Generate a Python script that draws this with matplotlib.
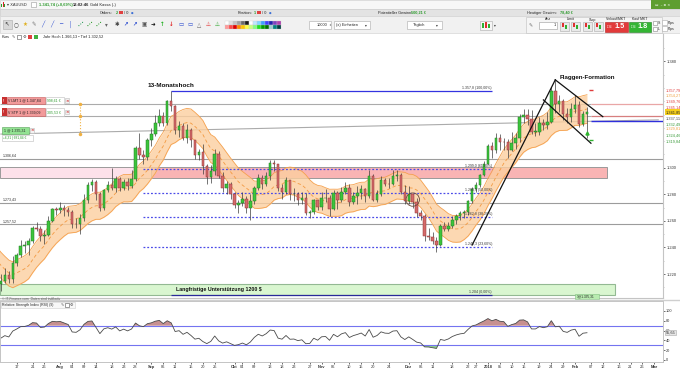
import numpy as np
import pandas as pd
import matplotlib
matplotlib.use("Agg")
import matplotlib.pyplot as plt
from matplotlib.patches import Rectangle, Ellipse
from matplotlib.transforms import blended_transform_factory

plt.rcParams['font.family'] = ['Liberation Sans', 'DejaVu Sans']

# ---------------- data (XAUUSD daily) ----------------
first_day = '2017-06-26'
axis_end = '2018-03-02'
holidays = ['2017-12-25', '2018-01-01']

opens = [1256.5, 1246.5, 1251.5, 1249.5, 1244.5,
         1241.5, 1219.5, 1226.5, 1225.5, 1222.5,
         1209.5, 1212.5, 1214.5, 1219.0, 1216.5,
         1228.5, 1234.0, 1241.0, 1241.5, 1245.0,
         1254.5, 1254.0, 1248.5, 1249.5, 1260.0,
         1269.0, 1268.5, 1269.5, 1268.0, 1266.5,
         1258.0, 1257.5, 1262.0, 1275.5, 1287.0,
         1289.0, 1280.5, 1269.5, 1283.0, 1287.0,
         1284.5, 1291.5, 1284.5, 1289.5, 1286.5,
         1291.5, 1314.5, 1309.5, 1308.0, 1320.5,
         1325.0, 1334.0, 1339.0, 1334.0, 1350.0,
         1346.5, 1328.5, 1331.5, 1322.5, 1328.5,
         1320.5, 1309.5, 1311.5, 1301.0, 1293.0,
         1297.5, 1310.5, 1294.0, 1284.5, 1287.5,
         1280.0, 1272.0, 1273.5, 1276.5, 1270.0,
         1275.0, 1284.5, 1292.0, 1288.0, 1293.5,
         1303.5, 1302.5, 1285.0, 1282.0, 1290.5,
         1280.0, 1280.5, 1276.0, 1277.5, 1266.0,
         1266.5, 1275.5, 1270.5, 1277.0, 1277.5,
         1269.0, 1281.0, 1275.5, 1282.0, 1285.0,
         1274.5, 1278.5, 1281.0, 1284.0, 1278.5,
         1294.0, 1276.0, 1280.5, 1291.0, 1288.0,
         1287.5, 1293.5, 1294.5, 1282.0, 1275.0,
         1280.5, 1274.0, 1266.0, 1263.5, 1248.5,
         1248.0, 1245.0, 1242.0, 1256.5, 1254.0,
         1256.5, 1261.0, 1264.0, 1266.0, 1267.0,
         1275.0, 1284.0, 1287.0, 1294.5,
         1302.5, 1316.5, 1313.5, 1322.0,
         1319.5, 1319.0, 1313.0, 1318.5, 1322.5,
         1338.0, 1339.5, 1337.0, 1327.0, 1327.0,
         1333.5, 1332.0, 1334.5, 1358.0, 1348.0,
         1350.0, 1340.5, 1338.5, 1344.5, 1347.0,
         1333.0, 1340.5]

highs = [1256.9, 1256.0, 1256.0, 1252.5, 1247.0,
         1242.0, 1228.0, 1227.5, 1228.0, 1225.0,
         1214.0, 1220.0, 1224.5, 1222.0, 1233.5,
         1236.0, 1245.5, 1244.5, 1247.0, 1256.5,
         1259.0, 1256.5, 1253.0, 1264.0, 1270.0,
         1270.5, 1274.0, 1272.0, 1270.5, 1268.5,
         1262.0, 1265.0, 1280.0, 1289.5, 1291.5,
         1290.5, 1281.5, 1284.0, 1290.0, 1300.0,
         1293.5, 1293.0, 1291.5, 1292.0, 1298.5,
         1316.0, 1326.0, 1313.0, 1322.0, 1330.0,
         1339.5, 1344.0, 1342.0, 1351.0, 1357.6,
         1347.0, 1335.5, 1334.0, 1333.0, 1330.0,
         1321.0, 1314.0, 1318.0, 1302.5, 1302.0,
         1314.0, 1312.5, 1297.0, 1290.0, 1289.5,
         1282.0, 1276.0, 1282.0, 1279.0, 1280.5,
         1286.5, 1295.0, 1294.5, 1296.5, 1306.0,
         1306.0, 1303.0, 1288.0, 1293.0, 1291.0,
         1285.0, 1282.0, 1282.0, 1281.0, 1268.5,
         1276.5, 1276.0, 1282.0, 1284.0, 1279.5,
         1283.5, 1282.5, 1285.5, 1289.0, 1287.5,
         1281.5, 1286.5, 1287.0, 1285.0, 1298.0,
         1295.0, 1283.0, 1293.5, 1292.5, 1292.5,
         1298.0, 1298.5, 1296.0, 1287.0, 1286.5,
         1280.5, 1277.5, 1268.0, 1265.0, 1255.0,
         1251.5, 1248.0, 1258.0, 1259.5, 1259.5,
         1264.0, 1265.5, 1267.5, 1268.0, 1276.0,
         1285.5, 1289.0, 1295.5, 1305.0,
         1318.0, 1319.0, 1326.0, 1325.0,
         1322.0, 1321.5, 1326.5, 1326.0, 1340.5,
         1344.5, 1344.0, 1343.5, 1334.0, 1338.5,
         1337.0, 1342.0, 1361.0, 1366.1, 1355.0,
         1351.5, 1345.0, 1348.5, 1355.0, 1350.0,
         1342.5, 1346.0]

lows = [1236.5, 1243.0, 1246.0, 1242.5, 1236.0,
        1218.5, 1218.0, 1220.0, 1219.0, 1207.0,
        1204.5, 1207.0, 1213.0, 1213.5, 1213.0,
        1226.0, 1232.5, 1236.0, 1234.0, 1243.0,
        1252.0, 1244.5, 1242.5, 1248.5, 1259.0,
        1264.5, 1266.0, 1264.0, 1264.0, 1254.5,
        1254.5, 1250.0, 1260.0, 1273.5, 1282.5,
        1276.0, 1267.5, 1268.0, 1281.5, 1283.0,
        1282.0, 1282.5, 1283.0, 1283.0, 1285.0,
        1290.0, 1306.5, 1303.0, 1305.5, 1316.0,
        1324.0, 1331.0, 1331.5, 1332.0, 1343.0,
        1325.0, 1323.0, 1321.0, 1318.5, 1315.5,
        1306.5, 1305.5, 1295.0, 1288.0, 1288.5,
        1294.5, 1292.5, 1282.0, 1280.5, 1276.5,
        1270.0, 1266.0, 1271.5, 1266.0, 1260.5,
        1272.5, 1283.0, 1284.0, 1286.5, 1290.5,
        1297.5, 1282.5, 1276.5, 1280.5, 1276.0,
        1275.0, 1272.0, 1273.0, 1264.5, 1262.0,
        1265.5, 1268.5, 1268.5, 1274.0, 1263.5,
        1268.5, 1269.0, 1274.5, 1280.5, 1271.5,
        1273.0, 1272.5, 1276.5, 1274.0, 1277.5,
        1275.0, 1274.5, 1279.0, 1286.0, 1284.5,
        1287.0, 1290.0, 1280.5, 1272.5, 1273.0,
        1270.0, 1263.0, 1260.5, 1245.0, 1245.5,
        1242.5, 1236.5, 1241.0, 1252.0, 1252.0,
        1255.0, 1258.0, 1261.0, 1262.0, 1264.5,
        1273.5, 1281.5, 1285.5, 1293.5,
        1302.5, 1307.0, 1311.0, 1313.5,
        1313.0, 1307.0, 1312.5, 1314.0, 1319.5,
        1333.5, 1332.5, 1325.5, 1324.0, 1324.5,
        1328.0, 1329.0, 1334.0, 1341.5, 1342.0,
        1336.0, 1334.0, 1334.5, 1341.0, 1330.5,
        1331.5, 1322.5]

closes = [1246.5, 1251.5, 1249.5, 1244.5, 1241.5,
          1219.5, 1226.5, 1225.5, 1222.5, 1209.5,
          1212.5, 1214.5, 1219.0, 1216.5, 1228.5,
          1234.0, 1241.0, 1241.5, 1245.0, 1254.5,
          1254.0, 1248.5, 1249.5, 1260.0, 1269.0,
          1268.5, 1269.5, 1268.0, 1266.5, 1258.0,
          1257.5, 1262.0, 1275.5, 1287.0, 1289.0,
          1280.5, 1269.5, 1283.0, 1287.0, 1284.5,
          1291.5, 1284.5, 1289.5, 1286.5, 1291.5,
          1314.5, 1309.5, 1308.0, 1320.5, 1325.0,
          1334.0, 1339.0, 1334.0, 1350.0, 1346.5,
          1328.5, 1331.5, 1322.5, 1328.5, 1320.5,
          1309.5, 1311.5, 1301.0, 1293.0, 1297.5,
          1310.5, 1294.0, 1284.5, 1287.5, 1280.0,
          1272.0, 1273.5, 1276.5, 1270.0, 1275.0,
          1284.5, 1292.0, 1288.0, 1293.5, 1303.5,
          1302.5, 1285.0, 1282.0, 1290.5, 1280.0,
          1280.5, 1276.0, 1277.5, 1266.0, 1266.5,
          1275.5, 1270.5, 1277.0, 1277.5, 1269.0,
          1281.0, 1275.5, 1282.0, 1285.0, 1274.5,
          1278.5, 1281.0, 1284.0, 1278.5, 1294.0,
          1276.0, 1280.5, 1291.0, 1288.0, 1287.5,
          1293.5, 1294.5, 1282.0, 1275.0, 1280.5,
          1274.0, 1266.0, 1263.5, 1248.5, 1248.0,
          1245.0, 1242.0, 1256.5, 1254.0, 1256.5,
          1261.0, 1264.0, 1266.0, 1267.0, 1275.0,
          1284.0, 1287.0, 1294.5, 1302.5,
          1316.5, 1313.5, 1322.0, 1319.5,
          1319.0, 1313.0, 1318.5, 1322.5, 1338.0,
          1339.5, 1337.0, 1327.0, 1327.0, 1333.5,
          1332.0, 1334.5, 1358.0, 1348.0, 1350.0,
          1340.5, 1338.5, 1344.5, 1347.0, 1333.0,
          1340.5, 1341.7]

# drawn levels / zones
line_levels = [1306.64, 1273.43, 1257.52]
line_labels = ['1.306,64', '1.273,43', '1.257,52']
order_levels = [1347.84, 1339.09]
entry_level = 1335.31
resistance_zone = [1292.5, 1300.8]
support_zone = [1204.0, 1212.4]
fib_levels = [1357.8, 1299.0, 1280.9, 1262.8, 1240.3, 1204.0]
fib_labels = ['1.357,8 (100,00%)', '1.299,0 (61,80%)', '1.280,9 (50,00%)',
              '1.262,8 (38,20%)', '1.240,3 (23,60%)', '1.204 (0,00%)']
flag_starts = [('2017-12-26', 1241.8), ('2018-01-25', 1366.1), ('2018-01-22', 1351.0)]
flag_ends = [('2018-01-25', 1366.1), ('2018-02-12', 1338.4), ('2018-02-07', 1318.4)]
trend_start = ('2017-07-11', 1325.3)
trend_end = ('2018-03-02', 1336.0)

right_values = [1357.79, 1354.27, 1349.76, 1345.14, 1341.85,
                1337.11, 1332.49, 1329.81, 1324.46, 1319.84]
right_texts = ['1.357,79', '1.354,27', '1.349,76', '1.345,14', '1.341,85',
               '1.337,11', '1.332,49', '1.329,81', '1.324,46', '1.319,84']
right_colors = ['#e03c3c', '#f0a040', '#e03c3c', '#e03c3c', '#222222',
                '#444444', '#3a9a3a', '#f0a040', '#3a9a3a', '#3a9a3a']
price_ticks = [1220, 1240, 1260, 1280, 1300, 1380]
rsi_ticks = [0, 20, 40, 60, 80, 100]

tick_dates = ['2017-07-17', '2017-07-21', '2017-07-26', '2017-08-01', '2017-08-04',
              '2017-08-09', '2017-08-14', '2017-08-18', '2017-08-23', '2017-08-28',
              '2017-09-01', '2017-09-06', '2017-09-11', '2017-09-15', '2017-09-20',
              '2017-09-25', '2017-10-02', '2017-10-04', '2017-10-09', '2017-10-13',
              '2017-10-18', '2017-10-23', '2017-10-27', '2017-11-01', '2017-11-06',
              '2017-11-10', '2017-11-15', '2017-11-20', '2017-11-24', '2017-12-01',
              '2017-12-06', '2017-12-11', '2017-12-18', '2017-12-22', '2017-12-27',
              '2018-01-02', '2018-01-05', '2018-01-10', '2018-01-15', '2018-01-19',
              '2018-01-24', '2018-01-29', '2018-02-01', '2018-02-07', '2018-02-12',
              '2018-02-16', '2018-02-21', '2018-02-26', '2018-03-01']
tick_texts = ['17', '21', '26', 'Aug', '04', '09', '14', '18', '23', '28',
              'Sep', '06', '11', '15', '20', '25', 'Okt', '04', '09', '13',
              '18', '23', '27', 'Nov', '06', '10', '15', '20', '24', 'Dez',
              '06', '11', '18', '22', '27', '2018', '05', '10', '15', '19',
              '24', '29', 'Feb', '07', '12', '16', '21', '26', 'Mar']
month_texts = ['Aug', 'Sep', 'Okt', 'Nov', 'Dez', '2018', 'Feb', 'Mar']

# ---------------- helpers ----------------
days = pd.bdate_range(first_day, axis_end)
days = days[~days.isin(pd.to_datetime(holidays))]
pos = {d: i for i, d in enumerate(days)}


def xpos(s):
    return pos[pd.Timestamp(s)]


x = np.arange(len(closes))
o = np.array(opens)
h = np.array(highs)
l = np.array(lows)
c = np.array(closes)

# envelope (10 day average) and RSI(9) of the closes
mid = pd.Series(c).rolling(10).mean().values
upper = mid * 1.008
lower = mid * 0.992
delta = pd.Series(c).diff()
gain = delta.clip(lower=0).ewm(alpha=1 / 9, adjust=False).mean()
loss = (-delta.clip(upper=0)).ewm(alpha=1 / 9, adjust=False).mean()
rsi = (100 - 100 / (1 + gain / loss)).values

W, H = 680, 371
x_left = xpos('2017-07-17') - 4.22
x_right = xpos('2017-07-17') + 163.2


def rect(left, top, right, bottom):
    return [left / W, 1 - bottom / H, (right - left) / W, (bottom - top) / H]


fig = plt.figure(figsize=(W / 100, H / 100), dpi=100)
fig.patch.set_facecolor('white')

# ---------------- main price chart ----------------
ax = fig.add_axes(rect(0, 33, 663, 298))
ax.set_xlim(x_left, x_right)
ax.set_ylim(1201.96, 1401.35)
ax.set_xticks([])
for s in ['top', 'left']:
    ax.spines[s].set_visible(False)
for s in ['right', 'bottom']:
    ax.spines[s].set_color('#c4c4c4')

# zones
ax.add_patch(Rectangle((x_left, resistance_zone[0]), xpos('2017-09-01') - x_left,
                       resistance_zone[1] - resistance_zone[0], fc='#fde1ea', ec='#9a9a9a', lw=0.7, zorder=1))
ax.add_patch(Rectangle((xpos('2017-09-01'), resistance_zone[0]), xpos('2018-02-13') - xpos('2017-09-01'),
                       resistance_zone[1] - resistance_zone[0], fc='#f9b4b4', ec='#9a9a9a', lw=0.7, zorder=1))
ax.add_patch(Rectangle((x_left, support_zone[0]), xpos('2018-02-15') - x_left,
                       support_zone[1] - support_zone[0], fc='#d9f6d0', ec='#93b993', lw=0.8, zorder=1))
ax.text(xpos('2017-09-26'), sum(support_zone) / 2, 'Langfristige Unterstützung 1200 $',
        fontsize=3.8, fontweight='bold', ha='center', va='center', color='#111', zorder=8)

# horizontal lines
for lv, lb in zip(line_levels, line_labels):
    ax.axhline(lv, color='#9c9c9c', lw=0.8, zorder=2)
    ax.text(x_left + 0.8, lv + 0.8, lb, fontsize=2.6, color='#333', va='bottom', zorder=8)
for lv, col in zip(order_levels, ['#e9a6a6', '#d77f7f']):
    ax.hlines(lv, x_left, xpos('2018-02-07'), color='#ababab', lw=0.8, zorder=2)
    ax.hlines(lv, xpos('2018-02-07'), x_right, color=col, lw=0.9, zorder=2)
ax.hlines(entry_level, xpos('2018-02-07'), x_right, color='#2f2fdc', lw=1.0, zorder=4)
ax.plot([xpos(trend_start[0]), xpos(trend_end[0])], [trend_start[1], trend_end[1]],
        color='#ababab', lw=0.8, zorder=2)

# band
ax.fill_between(x, lower, upper, color='#fccf9f', alpha=0.8, lw=0, zorder=3)
ax.plot(x, upper, color='#f5a14e', lw=0.6, zorder=3)
ax.plot(x, lower, color='#f5a14e', lw=0.6, zorder=3)
ax.plot(x, mid, color='#f39a42', lw=0.6, ls=(0, (4, 3)), zorder=3)

# fibonacci
for i, (lv, lb) in enumerate(zip(fib_levels, fib_labels)):
    if i == 0 or i == len(fib_levels) - 1:
        ax.hlines(lv, xpos('2017-09-08'), xpos('2018-01-03'),
                  color='#3434e0' if i == 0 else '#2a2a9a', lw=0.9, zorder=4)
    else:
        ax.hlines(lv, xpos('2017-08-30'), xpos('2018-01-03'), color='#4b4be8',
                  lw=0.9, ls=(0, (1.5, 1.5)), zorder=4)
    ax.text(xpos('2018-01-03'), lv + 0.6, lb, fontsize=2.5, color='#333',
            ha='right', va='bottom', zorder=8)

# candles
up = c >= o
ax.vlines(x, l, h, color='#3c3c3c', lw=0.5, zorder=5)
ax.bar(x, np.maximum(np.abs(c - o), 0.4), bottom=np.minimum(o, c), width=0.62,
       color=np.where(up, '#3cc43c', '#d46a6a'), edgecolor=np.where(up, '#237a23', '#8f3535'),
       linewidth=0.35, zorder=6)

# annotations
for (d0, p0), (d1, p1) in zip(flag_starts, flag_ends):
    ax.plot([xpos(d0), xpos(d1)], [p0, p1], color='#111', lw=0.9, zorder=7)
ax.text(xpos('2018-01-26'), 1367.5, 'Flaggen-Formation', fontsize=4.4, fontweight='bold',
        va='center', color='#111', zorder=8)
ax.text(xpos('2017-08-31'), 1362.0, '13-Monatshoch', fontsize=4.6, fontweight='bold',
        va='center', color='#111', zorder=8)
ax.add_patch(Ellipse((xpos('2017-12-04'), 1276.0), 3.4, 10.0, fill=False,
                     ec='#6b4a3a', lw=0.6, zorder=7))
ax.plot(xpos('2018-02-07'), 1358.4, marker='_', color='#e03c3c', ms=3, mew=1, zorder=8)
ax.plot(xpos('2018-02-06'), 1326.3, marker='^', color='#2fb52f', ms=2.2, zorder=8)
ax.plot(xpos('2018-02-07'), 1320.8, marker='_', color='#2fb52f', ms=3, mew=1, zorder=8)

# right price axis
ax.yaxis.tick_right()
ax.set_yticks(price_ticks)
ax.set_yticklabels(['1.%03d' % (p - 1000) for p in price_ticks])
ax.set_yticks(np.arange(1210, 1400, 10), minor=True)
ax.tick_params(axis='y', which='major', labelsize=2.9, length=1.5, pad=1,
               colors='#333', width=0.5)
ax.tick_params(axis='y', which='minor', length=1.0, width=0.4, colors='#999')
blend = blended_transform_factory(ax.transAxes, ax.transData)
for v, t, col in zip(right_values, right_texts, right_colors):
    kw = {}
    if t == '1.341,85':
        kw['bbox'] = dict(boxstyle='square,pad=0.15', fc='#f5cf1c', ec='none')
    ax.text(1.004, v, t, transform=blend, fontsize=2.8, color=col, va='center',
            ha='left', clip_on=False, zorder=9, **kw)

# ---------------- RSI panel ----------------
ax_r = fig.add_axes(rect(0, 301, 663, 362))
ax_r.set_xlim(x_left, x_right)
ax_r.set_ylim(-4.1, 120.4)
for s in ax_r.spines.values():
    s.set_color('#c4c4c4')
    s.set_linewidth(0.7)
ax_r.axhline(70, color='#7474f0', lw=0.8)
ax_r.axhline(30, color='#7474f0', lw=0.8)
ok = ~np.isnan(rsi)
ax_r.fill_between(x[ok], rsi[ok], 70, where=rsi[ok] >= 70, interpolate=True,
                  color='#b97474', alpha=0.8, lw=0)
ax_r.fill_between(x[ok], rsi[ok], 30, where=rsi[ok] <= 30, interpolate=True,
                  color='#75c475', alpha=0.8, lw=0)
ax_r.plot(x[ok], rsi[ok], color='#4a4a4a', lw=0.6)
ax_r.yaxis.tick_right()
ax_r.set_yticks(rsi_ticks)
ax_r.tick_params(axis='y', labelsize=2.8, length=1.2, pad=1, colors='#333', width=0.5)
ax_r.set_xticks([xpos(d) for d in tick_dates])
ax_r.set_xticklabels(tick_texts)
ax_r.tick_params(axis='x', labelsize=2.9, length=1.2, pad=1.2, colors='#333', width=0.5)
for lab in ax_r.get_xticklabels():
    if lab.get_text() in month_texts:
        lab.set_fontweight('bold')
last_rsi = rsi[-1]
ax_r.text(1.004, last_rsi, ('%.2f' % last_rsi).replace('.', ','),
          transform=blended_transform_factory(ax_r.transAxes, ax_r.transData),
          fontsize=2.8, color='#333', va='center', ha='left', clip_on=False, zorder=9,
          bbox=dict(boxstyle='square,pad=0.15', fc='#e6e6e6', ec='#aaaaaa', lw=0.4))

# ---------------- platform frame (toolbar, order labels) ----------------
ov = fig.add_axes([0, 0, 1, 1], zorder=10)
ov.set_xlim(0, W)
ov.set_ylim(H, 0)
ov.axis('off')


def box(x0, y0, w, hh, fc, ec='none', lw=0.5):
    ov.add_patch(Rectangle((x0, y0), w, hh, fc=fc, ec=ec, lw=lw))


def txt(x0, y0, s, size=3.0, color='#222', **kw):
    ov.text(x0, y0, s, fontsize=size, color=color, va='center', **kw)


box(0, 0, W, 33, '#eeeeee')
box(0, 0, W, 9, '#f7f7f7', ec='#d4d4d4')
box(0, 9, W, 7, '#e3e3e3', ec='#cfcfcf')
box(0, 16, W, 17, '#f1f1f1', ec='#d6d6d6')

# row 0
box(1, 3.5, 1, 3.5, '#2ca02c'); box(2.6, 2, 1, 5, '#d62728'); box(4.2, 4, 1, 3, '#2ca02c')
txt(7, 4.6, '▾ XAUUSD', 2.8, '#333', family=['DejaVu Sans'])
box(31, 2.2, 4.5, 4.5, 'white', ec='#999', lw=0.4)
txt(39, 4.6, '1.341,74 (+0,69%)', 2.9, '#2d9a2d', fontweight='bold')
txt(73, 4.6, '13:02:46', 2.9, '#222', fontweight='bold')
txt(90, 4.6, 'Gold Kassa (-)', 2.9)
box(651, 0, 29, 9, '#5e9e30')
txt(655, 4.6, '▭  – ▫ ×', 2.6, 'white', family=['DejaVu Sans'])

# row 1
txt(100, 12.6, 'Orders:', 2.8); txt(116, 12.6, '2', 2.8, '#2d9a2d', fontweight='bold')
box(119, 10.8, 3.5, 3.5, '#e04040'); txt(124.5, 12.6, '/ 0', 2.8)
txt(131, 12.6, '●', 2.2, '#3b6fd6', family=['DejaVu Sans'])
txt(238, 12.6, 'Position:', 2.8); txt(254, 12.6, '1', 2.8, '#2d9a2d', fontweight='bold')
box(257, 10.8, 3.5, 3.5, '#e04040'); txt(262.5, 12.6, '/ 0', 2.8)
txt(269, 12.6, '●', 2.2, '#3b6fd6', family=['DejaVu Sans'])
txt(378, 12.6, 'Potentieller Gewinn:', 2.8)
txt(411, 12.6, '500,21 €', 2.8, '#2d9a2d', fontweight='bold')
txt(527, 12.6, 'Heutiger Gewinn:', 2.8)
txt(559.5, 12.6, '78,40 €', 2.8, '#2d9a2d', fontweight='bold')

# row 2: drawing tools
box(3, 20, 8.5, 9, '#d8d8d8', ec='#aaa', lw=0.4)
icons = ['↖', '○', '★', '✎', '╱', '╱', '─', '│', '⋰', '⋰', '⋰', '▾',
         '✱', '↗', '↗', '▣', '➜', '↑', '↓', '▭', '▭', '△', '⚠', '⚠']
icon_cols = ['#555', '#444', '#e0b020', '#777', '#3050d0', '#3050d0', '#3050d0', '#3050d0',
             '#2a9a5a', '#2a9a2a', '#2a9a2a', '#666', '#444', '#3050d0', '#3050d0', '#555',
             '#111', '#20b020', '#e02020', '#3050d0', '#3050d0', '#666', '#e02020', '#20a020']
for i, (ic, col) in enumerate(zip(icons, icon_cols)):
    txt(4.5 + i * 9.15, 24.8, ic, 4.0, col, family=['DejaVu Sans'], fontweight='bold')
pal_top = ['#ffffff', '#e2e2e2', '#c4c4c4', '#a0a0a0', '#6a6a6a', '#1a1a1a', '#ffffff',
           '#bfe6ff', '#7fd4ff', '#3fa0ff', '#3f3fff', '#2020b0', '#8040c0', '#b040b0']
pal_bot = ['#ff9a9a', '#ff4a4a', '#e00000', '#ff8a00', '#ffc800', '#ffff40', '#c8ff80',
           '#80ff80', '#20e020', '#00a000', '#007000', '#a0d0d0', '#008080', '#004040']
for i, col in enumerate(pal_top):
    box(225 + i * 4, 20.5, 4, 4.2, col, ec='#c8c8c8', lw=0.2)
for i, col in enumerate(pal_bot):
    box(225 + i * 4, 24.7, 4, 4.2, col, ec='#c8c8c8', lw=0.2)

box(309, 21, 22, 8, 'white', ec='#aaa', lw=0.4)
txt(327.5, 25, '10000', 2.8, ha='right')
txt(328.5, 25, '⇕', 2.5, '#555', family=['DejaVu Sans'])
box(334, 21, 36, 8, 'white', ec='#aaa', lw=0.4)
txt(336, 25, '(x) Einheiten', 2.8)
txt(365, 25, '▾', 2.6, '#333', family=['DejaVu Sans'])
box(407, 21, 35, 8, 'white', ec='#aaa', lw=0.4)
txt(413, 25, 'Täglich', 2.8)
txt(436, 25, '▾', 2.6, '#333', family=['DejaVu Sans'])
box(480, 20.5, 12, 9, '#f6f6f6', ec='#aaa', lw=0.4)
box(482, 23, 1.5, 5, '#30b030'); box(485, 22, 1.5, 6, '#e03030'); box(488, 24, 1.5, 4, '#30b030')
txt(494, 25, '▾', 2.6, '#333', family=['DejaVu Sans'])

# order panel
box(526, 17, 136, 15.5, '#f5f5f5', ec='#c8c8c8', lw=0.5)
txt(529, 25.5, '✎', 3.5, '#666', family=['DejaVu Sans'])
txt(548, 19.5, 'Anz', 2.6, ha='center')
box(539, 21.5, 18, 7.5, 'white', ec='#999', lw=0.4)
txt(555.5, 25.3, '1', 2.8, ha='right')
txt(570.5, 19.5, 'Limit', 2.6, ha='center')
txt(592.5, 19.5, 'Stop', 2.6, ha='center')
for bx in [560, 571, 583, 594]:
    box(bx, 21.5, 9, 9.5, '#e9e9e9', ec='#aaa', lw=0.4)
    box(bx + 1.5, 23, 2.5, 4, '#e03030')
    box(bx + 4.5, 25, 2.5, 4, '#30b030')
txt(616.5, 19.5, 'Verkauf/MKT', 2.5, ha='center')
box(605, 21.5, 23, 10, '#e23a3a', ec='#b02020', lw=0.4)
txt(606.5, 27.5, '1.34', 2.0, 'white')
txt(614, 26.2, '1.5', 5.2, 'white', fontweight='bold')
txt(640, 19.5, 'Kauf MKT', 2.5, ha='center')
box(629, 21.5, 22, 10, '#34b534', ec='#208020', lw=0.4)
txt(630.5, 27.5, '1.34', 2.0, 'white')
txt(637.5, 26.2, '1.8', 5.2, 'white', fontweight='bold')
for yy, lb in [(21, 'S'), (27, 'L')]:
    box(653, yy, 3.5, 3.5, 'white', ec='#888', lw=0.4)
    txt(657.5, yy + 1.8, lb, 2.5)
    box(662, yy - 1, 5, 5, 'white', ec='#aaa', lw=0.4)
    txt(668, yy + 1.8, 'Pips', 2.5)

# row 3 (inside the chart)
txt(2, 36.8, 'Kurs', 2.8)
txt(12, 36.8, '✎', 3, '#555', family=['DejaVu Sans'])
box(17, 34.8, 4, 4, 'white', ec='#555', lw=0.4)
txt(22.5, 36.8, '⚙', 3, '#444', family=['DejaVu Sans'])
box(28, 34.8, 4, 4, '#e04040')
box(33.5, 34.8, 4, 4, '#40b040')
txt(43, 36.8, 'Jahr Hoch 1.366,13 • Tief 1.302,52', 2.8)

# order labels on the left
for yy, t1, t2 in [(96.8, 'V LMT 1 @ 1.347,84', '998,61 €'),
                   (108.3, 'V STP 1 @ 1.339,09', '305,53 €')]:
    box(1.5, yy, 5, 7.5, '#c83030')
    txt(3, yy + 3.8, '!', 2.6, 'white', fontweight='bold')
    box(6.5, yy, 38.5, 7.5, '#f29a9a', ec='#c85a5a', lw=0.4)
    txt(8.5, yy + 3.8, t1, 2.5, '#222')
    box(45.5, yy, 18.5, 7.5, 'white', ec='#bbb', lw=0.4)
    txt(47, yy + 3.8, t2, 2.5, '#2d9a2d')
    box(65, yy + 1.6, 4.3, 4.3, '#f2f2f2', ec='#bbb', lw=0.4)
    txt(65.6, yy + 3.8, '×', 3, '#d02020', family=['DejaVu Sans'], fontweight='bold')
box(1.5, 126.8, 27, 7.5, '#92e392', ec='#5aa05a', lw=0.4)
txt(3.5, 130.6, '1 @ 1.335,31', 2.5, '#222')
box(29.5, 128.3, 4.3, 4.3, '#f2f2f2', ec='#bbb', lw=0.4)
txt(30.1, 130.5, '×', 3, '#d02020', family=['DejaVu Sans'], fontweight='bold')
box(1.5, 134.6, 31, 6.5, 'white', ec='#bbb', lw=0.4)
txt(3, 137.9, '+6,31 | 681,84 €', 2.3, '#2d9a2d')
ov.plot([79.5, 79.5], [104, 134], ls=':', color='#f0b040', lw=0.8)
ov.plot([79.5, 79.5, 79.5], [104, 115.5, 134], 'o', color='#f0b040', ms=1.5)

# bottom area
box(575, 294.3, 24, 4.8, '#b8ecb0', ec='#80c080', lw=0.4)
txt(577, 296.8, '1@1.335,31', 2.3, '#222')
txt(2, 298.6, '© IT-Finance.com  Daten sind indikativ', 2.4, '#555')
ov.plot([0, W], [300.4, 300.4], color='#cfcfcf', lw=1.0)
box(1, 301.8, 74, 6, '#f8f8f8', ec='#cfcfcf', lw=0.4)
txt(2.5, 304.8, 'Relative Strength Index (RSI) (9)', 2.5, '#222')
txt(61, 304.8, '✎', 2.8, '#555', family=['DejaVu Sans'])
box(65, 303, 3.5, 3.5, 'white', ec='#555', lw=0.4)
txt(70, 304.8, '⚙', 2.8, '#444', family=['DejaVu Sans'])

fig.savefig('out.png', dpi=100)
